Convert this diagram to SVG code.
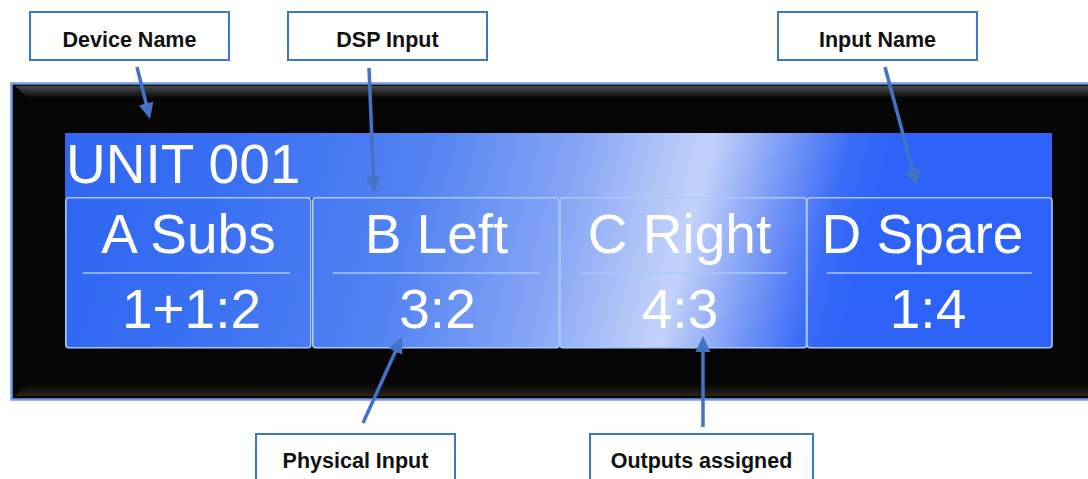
<svg xmlns="http://www.w3.org/2000/svg" width="1088" height="479" viewBox="0 0 1088 479">
<style>
.callout rect{fill:#ffffff;stroke:#3b78bf;stroke-width:2}
.callout text{font-family:"Liberation Sans",Arial,sans-serif;font-weight:bold;font-size:21.5px;fill:#111;text-anchor:middle}
.cell rect{fill:url(#glare);stroke:#a9c9f7;stroke-width:1.6}
.cell line{stroke:#a9c9f7;stroke-width:1.6}
.lcd{font-family:"Liberation Sans",Arial,sans-serif;font-size:55px;fill:#ffffff}
.mid{text-anchor:middle}
.conn line{stroke:#4472c4;stroke-width:3.5;marker-end:url(#head)}
</style>
<defs>
<marker id="head" markerUnits="userSpaceOnUse" markerWidth="17" markerHeight="16" refX="8" refY="8" orient="auto" viewBox="0 0 17 16">
<path d="M0,0.5 L16,8 L0,15.5 z" fill="#4472c4"/>
</marker>
<linearGradient id="glare" gradientUnits="userSpaceOnUse" x1="0" y1="0" x2="1064.8" y2="275">
<stop offset="0" stop-color="#2a62f2"/>
<stop offset="0.227" stop-color="#386ef2"/>
<stop offset="0.409" stop-color="#5283f2"/>
<stop offset="0.545" stop-color="#86a6f5"/>
<stop offset="0.636" stop-color="#bacbf9"/>
<stop offset="0.659" stop-color="#c3d2fa"/>
<stop offset="0.718" stop-color="#819ff6"/>
<stop offset="0.782" stop-color="#3a6cf7"/>
<stop offset="0.818" stop-color="#2d63f8"/>
<stop offset="1" stop-color="#2d63f8"/>
</linearGradient>
<linearGradient id="topBevel" x1="0" y1="0" x2="0" y2="1">
<stop offset="0" stop-color="#4a4a4a"/>
<stop offset="1" stop-color="#080808"/>
</linearGradient>
<linearGradient id="botBevel" x1="0" y1="0" x2="0" y2="1">
<stop offset="0" stop-color="#060504"/>
<stop offset="1" stop-color="#2a231c"/>
</linearGradient>
</defs>
<rect width="1088" height="479" fill="#ffffff"/>

<g id="display-panel">
<rect x="11.5" y="83.5" width="1090" height="316" fill="#050505" stroke="#6e9ce2" stroke-width="2.5"/>
<polygon points="15,86 1092,86 1092,98 28,98" fill="url(#topBevel)"/>
<polygon points="28,383 1092,383 1092,396 15,396" fill="url(#botBevel)"/>
</g>

<g id="title-bar">
<rect x="65" y="133" width="987" height="65" fill="url(#glare)"/>
<text class="lcd" x="66" y="183">UNIT 001</text>
</g>

<g id="cell-a" class="cell">
<rect x="65.8" y="197.8" width="245" height="150" rx="3"/>
<line x1="83" y1="273" x2="290" y2="273"/>
<text class="lcd mid" x="188.5" y="252.5">A Subs</text>
<text class="lcd mid" x="191.5" y="328">1+1:2</text>
</g>
<g id="cell-b" class="cell">
<rect x="312.8" y="197.8" width="246.5" height="150" rx="3"/>
<line x1="333" y1="273" x2="540" y2="273"/>
<text class="lcd mid" x="436.5" y="252.5">B Left</text>
<text class="lcd mid" x="437.5" y="328">3:2</text>
</g>
<g id="cell-c" class="cell">
<rect x="560" y="197.8" width="246.5" height="150" rx="3"/>
<line x1="580" y1="273" x2="787" y2="273"/>
<text class="lcd mid" x="679.5" y="252.5">C Right</text>
<text class="lcd mid" x="680" y="328">4:3</text>
</g>
<g id="cell-d" class="cell">
<rect x="807" y="197.8" width="245" height="150" rx="3"/>
<line x1="827" y1="273" x2="1032" y2="273"/>
<text class="lcd mid" x="922.5" y="252.5">D Spare</text>
<text class="lcd mid" x="928" y="328">1:4</text>
</g>

<g id="label-device-name" class="callout">
<rect x="30" y="12" width="199" height="48"/>
<text x="129.5" y="47">Device Name</text>
</g>
<g id="label-dsp-input" class="callout">
<rect x="288" y="12" width="199" height="48"/>
<text x="387.5" y="47">DSP Input</text>
</g>
<g id="label-input-name" class="callout">
<rect x="778" y="12" width="199" height="48"/>
<text x="877.5" y="47">Input Name</text>
</g>
<g id="label-physical-input" class="callout">
<rect x="256" y="434" width="199" height="60"/>
<text x="355.5" y="468">Physical Input</text>
</g>
<g id="label-outputs-assigned" class="callout">
<rect x="590" y="434" width="223" height="60"/>
<text x="701.5" y="468">Outputs assigned</text>
</g>

<g id="connectors" class="conn">
<line x1="137" y1="67" x2="148.06" y2="111.24"/>
<line x1="369" y1="68" x2="373.68" y2="184.01"/>
<line x1="885" y1="67" x2="914.92" y2="178.27"/>
<line x1="363" y1="423" x2="398.7" y2="344.3"/>
<line x1="703" y1="427" x2="703" y2="344"/>
</g>
</svg>
